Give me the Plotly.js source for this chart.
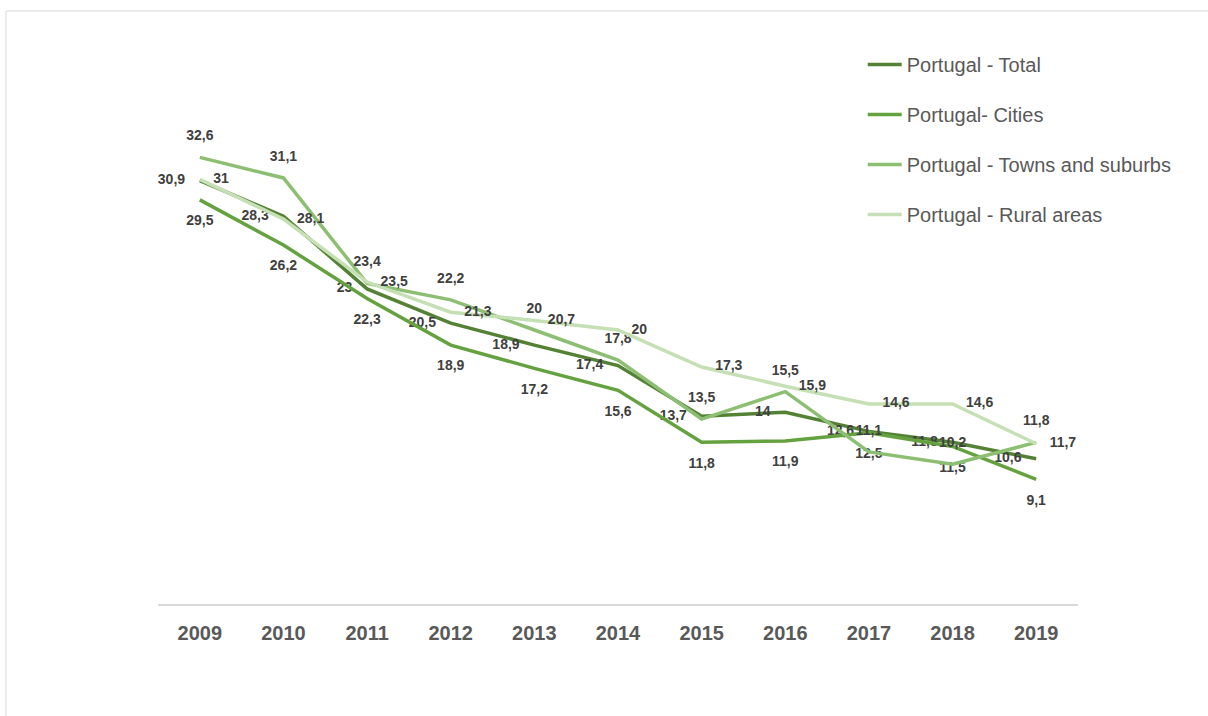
<!DOCTYPE html>
<html>
<head>
<meta charset="utf-8">
<script src="https://cdn.plot.ly/plotly-3.0.1.min.js"></script>
<style>html,body{margin:0;padding:0;background:#fff;}#chart{width:1208px;height:716px;}</style>
</head>
<body>
<div id="chart"></div>
<script>
const years = ['2009','2010','2011','2012','2013','2014','2015','2016','2017','2018','2019'];
const total  = [30.9, 28.3, 23.0, 20.5, 18.9, 17.4, 13.7, 14.0, 12.6, 11.8, 10.6];
const cities = [29.5, 26.2, 22.3, 18.9, 17.2, 15.6, 11.8, 11.9, 12.5, 11.5, 9.1];
const towns  = [32.6, 31.1, 23.4, 22.2, 20.0, 17.8, 13.5, 15.5, 11.1, 10.2, 11.8];
const rural  = [31.0, 28.1, 23.5, 21.3, 20.7, 20.0, 17.3, 15.9, 14.6, 14.6, 11.7];
const seriesNames = ['Portugal - Total', 'Portugal- Cities', 'Portugal - Towns and suburbs', 'Portugal - Rural areas'];

const fmt = v => String(v).replace('.', ',');
const labelFont = {family: 'Liberation Sans, Arial, sans-serif', size: 14, color: '#404040', weight: 'bold'};

function mk(name, vals, color, pos, group, msize) {
  return {
    x: years, y: vals, name: name, type: 'scatter', mode: 'lines+markers+text',
    line: {color: color, width: 3.5},
    marker: {size: msize, color: 'rgba(0,0,0,0)', opacity: 0, line: {width: 0, color: 'rgba(0,0,0,0)'}},
    text: vals.map(fmt), textposition: pos, textfont: labelFont,
    legendgroup: group, hoverinfo: 'skip', cliponaxis: false
  };
}

const data = [
  mk(seriesNames[0], total,  '#548235', 'middle left',  'g1', 22),
  mk(seriesNames[1], cities, '#64A23F', 'bottom center','g2', 22),
  mk(seriesNames[2], towns,  '#8CBF72', 'top center',   'g3', 20),
  mk(seriesNames[3], rural,  '#C5E0B4', 'middle right', 'g4', 20)
];

const layout = {
  width: 1208, height: 716,
  margin: {l: 158, r: 130, t: 56, b: 112, pad: 0},
  paper_bgcolor: '#ffffff', plot_bgcolor: '#ffffff',
  showlegend: true,
  legend: {
    x: 0.766, xanchor: 'left', y: 1.02, yanchor: 'top',
    font: {family: 'Liberation Sans, Arial, sans-serif', size: 20, color: '#595959'},
    tracegroupgap: 21, bgcolor: 'rgba(0,0,0,0)', borderwidth: 0, itemwidth: 34
  },
  xaxis: {
    type: 'category', range: [-0.5, 10.5], fixedrange: true,
    showgrid: false, zeroline: false, showline: true, linecolor: '#D9D9D9', linewidth: 1.5,
    ticks: '', ticklabelstandoff: 10,
    tickfont: {family: 'Liberation Sans, Arial, sans-serif', size: 20, color: '#595959', weight: 'bold'}
  },
  yaxis: {
    range: [0, 40], showgrid: false, zeroline: false, showline: false,
    showticklabels: false, ticks: '', fixedrange: true
  },
  shapes: [{
    type: 'rect', xref: 'paper', yref: 'paper',
    x0: -0.1652, x1: 1.15, y0: -0.22, y1: 1.0821,
    line: {color: '#D9D9D9', width: 1}, fillcolor: 'rgba(0,0,0,0)', layer: 'below'
  }]
};

Plotly.newPlot('chart', data, layout, {displayModeBar: false, staticPlot: true});
</script>
</body>
</html>
